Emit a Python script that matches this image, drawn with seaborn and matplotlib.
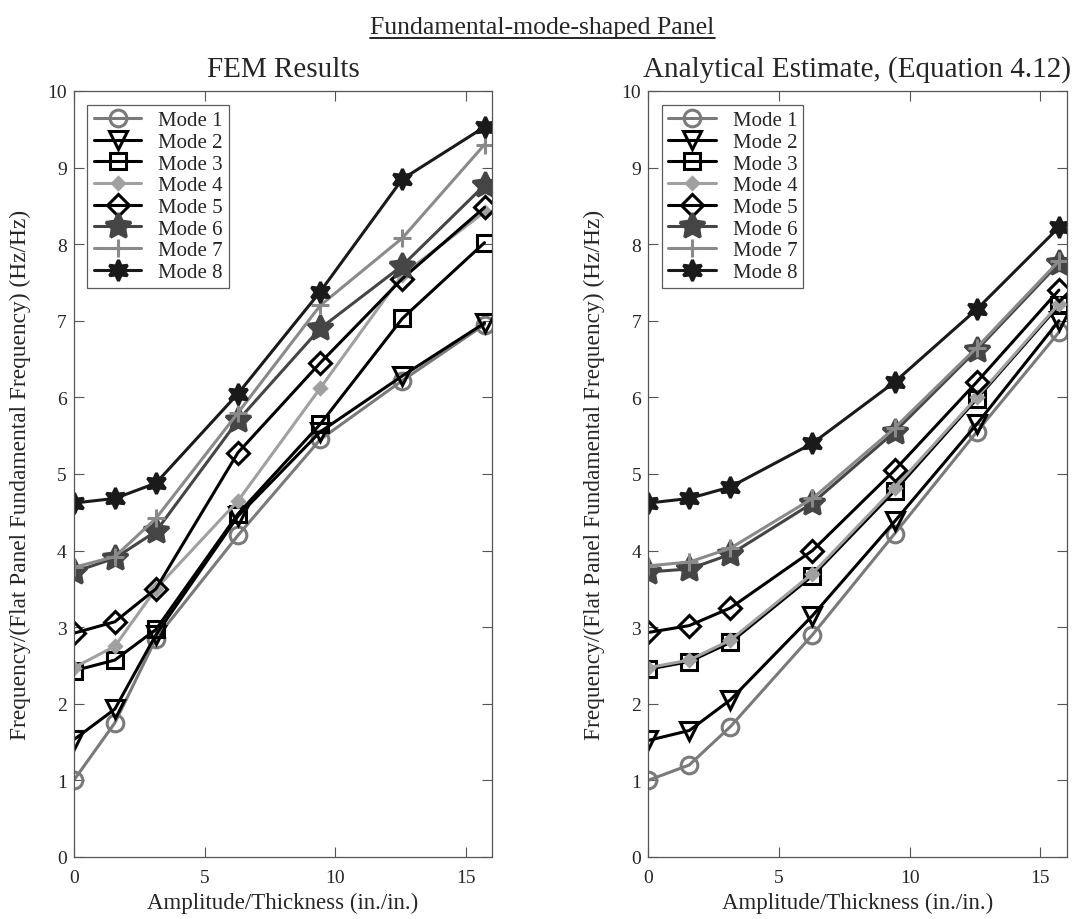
import numpy as np
import pandas as pd
import seaborn as sns
import matplotlib.pyplot as plt
from matplotlib.lines import Line2D

# amplitude / thickness sample points
amp = [0.0, 1.571, 3.142, 6.283, 9.425, 12.566, 15.708]
modes = ["Mode 1", "Mode 2", "Mode 3", "Mode 4", "Mode 5", "Mode 6", "Mode 7", "Mode 8"]

# FEM results, frequency ratio per mode
fem_m1 = [1.00, 1.75, 2.85, 4.20, 5.45, 6.22, 6.95]
fem_m2 = [1.53, 1.93, 2.90, 4.45, 5.55, 6.28, 6.97]
fem_m3 = [2.43, 2.57, 2.97, 4.48, 5.65, 7.03, 8.02]
fem_m4 = [2.47, 2.75, 3.50, 4.65, 6.12, 7.60, 8.42]
fem_m5 = [2.92, 3.07, 3.50, 5.28, 6.45, 7.55, 8.48]
fem_m6 = [3.72, 3.90, 4.25, 5.70, 6.90, 7.72, 8.77]
fem_m7 = [3.78, 3.92, 4.42, 5.80, 7.20, 8.08, 9.30]
fem_m8 = [4.62, 4.68, 4.88, 6.05, 7.38, 8.85, 9.53]

# analytical estimate (eq. 4.12)
ana_m1 = [1.00, 1.20, 1.70, 2.90, 4.22, 5.55, 6.85]
ana_m2 = [1.52, 1.65, 2.05, 3.15, 4.38, 5.65, 7.00]
ana_m3 = [2.45, 2.55, 2.80, 3.67, 4.78, 5.98, 7.20]
ana_m4 = [2.47, 2.57, 2.83, 3.70, 4.82, 6.00, 7.22]
ana_m5 = [2.93, 3.02, 3.25, 4.00, 5.05, 6.20, 7.40]
ana_m6 = [3.72, 3.76, 3.95, 4.62, 5.55, 6.62, 7.75]
ana_m7 = [3.80, 3.85, 4.03, 4.68, 5.60, 6.65, 7.78]
ana_m8 = [4.62, 4.68, 4.83, 5.40, 6.20, 7.15, 8.22]

fem = [fem_m1, fem_m2, fem_m3, fem_m4, fem_m5, fem_m6, fem_m7, fem_m8]
ana = [ana_m1, ana_m2, ana_m3, ana_m4, ana_m5, ana_m6, ana_m7, ana_m8]


def to_long(series):
    rows = []
    for name, vals in zip(modes, series):
        for a, v in zip(amp, vals):
            rows.append({"amp": a, "freq": v, "mode": name})
    return pd.DataFrame(rows)


# line/marker styles (MATLAB-ish greyscale)
styles = {
    "Mode 1": dict(color="#7a7a7a", marker="o", mfc="none", ms=12),
    "Mode 2": dict(color="black", marker="v", mfc="none", ms=13),
    "Mode 3": dict(color="black", marker="s", mfc="none", ms=12),
    "Mode 4": dict(color="#a0a0a0", marker="D", mfc="#a0a0a0", ms=6),
    "Mode 5": dict(color="black", marker="D", mfc="none", ms=11),
    "Mode 6": dict(color="#454545", marker=(5, 1, 0), mfc="#454545", ms=19),
    "Mode 7": dict(color="#8a8a8a", marker="+", mfc="none", ms=13),
    "Mode 8": dict(color="#1a1a1a", marker=(6, 1, 0), mfc="#1a1a1a", ms=15),
}

sns.set_theme(style="ticks")
plt.rcParams["font.family"] = ["Liberation Serif", "DejaVu Serif"]

fig, axes = plt.subplots(1, 2, figsize=(10.85, 9.2), dpi=100)
fig.subplots_adjust(left=0.068, right=0.983, bottom=0.0675, top=0.9, wspace=0.373)

panels = [(axes[0], fem, "FEM Results"),
          (axes[1], ana, "Analytical Estimate, (Equation 4.12)")]

for ax, series, title in panels:
    df = to_long(series)
    for name in modes:
        st = styles[name]
        sub = df[df["mode"] == name]
        sns.lineplot(data=sub, x="amp", y="freq", ax=ax, color=st["color"],
                     marker=st["marker"], markersize=st["ms"],
                     markerfacecolor=st["mfc"], markeredgecolor=st["color"],
                     markeredgewidth=2.2, linewidth=2.2, label=name)
    ax.set_xlim(0, 16)
    ax.set_ylim(0, 10)
    ax.set_xticks([0, 5, 10, 15])
    ax.set_yticks(range(0, 11))
    ax.tick_params(direction="in", top=True, right=True, labelsize=14,
                   length=7, width=0.8, color="#555555")
    ax.tick_params(axis="x", pad=9)
    ax.tick_params(axis="y", pad=5)
    for sp in ax.spines.values():
        sp.set_linewidth(0.9)
        sp.set_color("#555555")
    ax.set_xlabel("Amplitude/Thickness (in./in.)", fontsize=16.5, labelpad=4)
    ax.set_ylabel("Frequency/(Flat Panel Fundamental Frequency) (Hz/Hz)",
                  fontsize=16.8, labelpad=12)
    ax.set_title(title, fontsize=21, pad=11)
    leg = ax.legend(loc="upper left", fontsize=15, frameon=True, fancybox=False,
                    borderpad=0.3, labelspacing=0.1, handlelength=2.3,
                    handletextpad=0.8, borderaxespad=0.65)
    leg.get_frame().set_edgecolor("#333333")
    leg.get_frame().set_linewidth(0.9)

sup = fig.suptitle("Fundamental-mode-shaped Panel", fontsize=18.5, y=0.982)

# underline the main title
fig.canvas.draw()
bb = sup.get_window_extent().transformed(fig.transFigure.inverted())
fig.add_artist(Line2D([bb.x0, bb.x1], [bb.y0 - 0.001, bb.y0 - 0.001],
                      transform=fig.transFigure, color="black", linewidth=1.2))

fig.savefig("out.png", dpi=100)
